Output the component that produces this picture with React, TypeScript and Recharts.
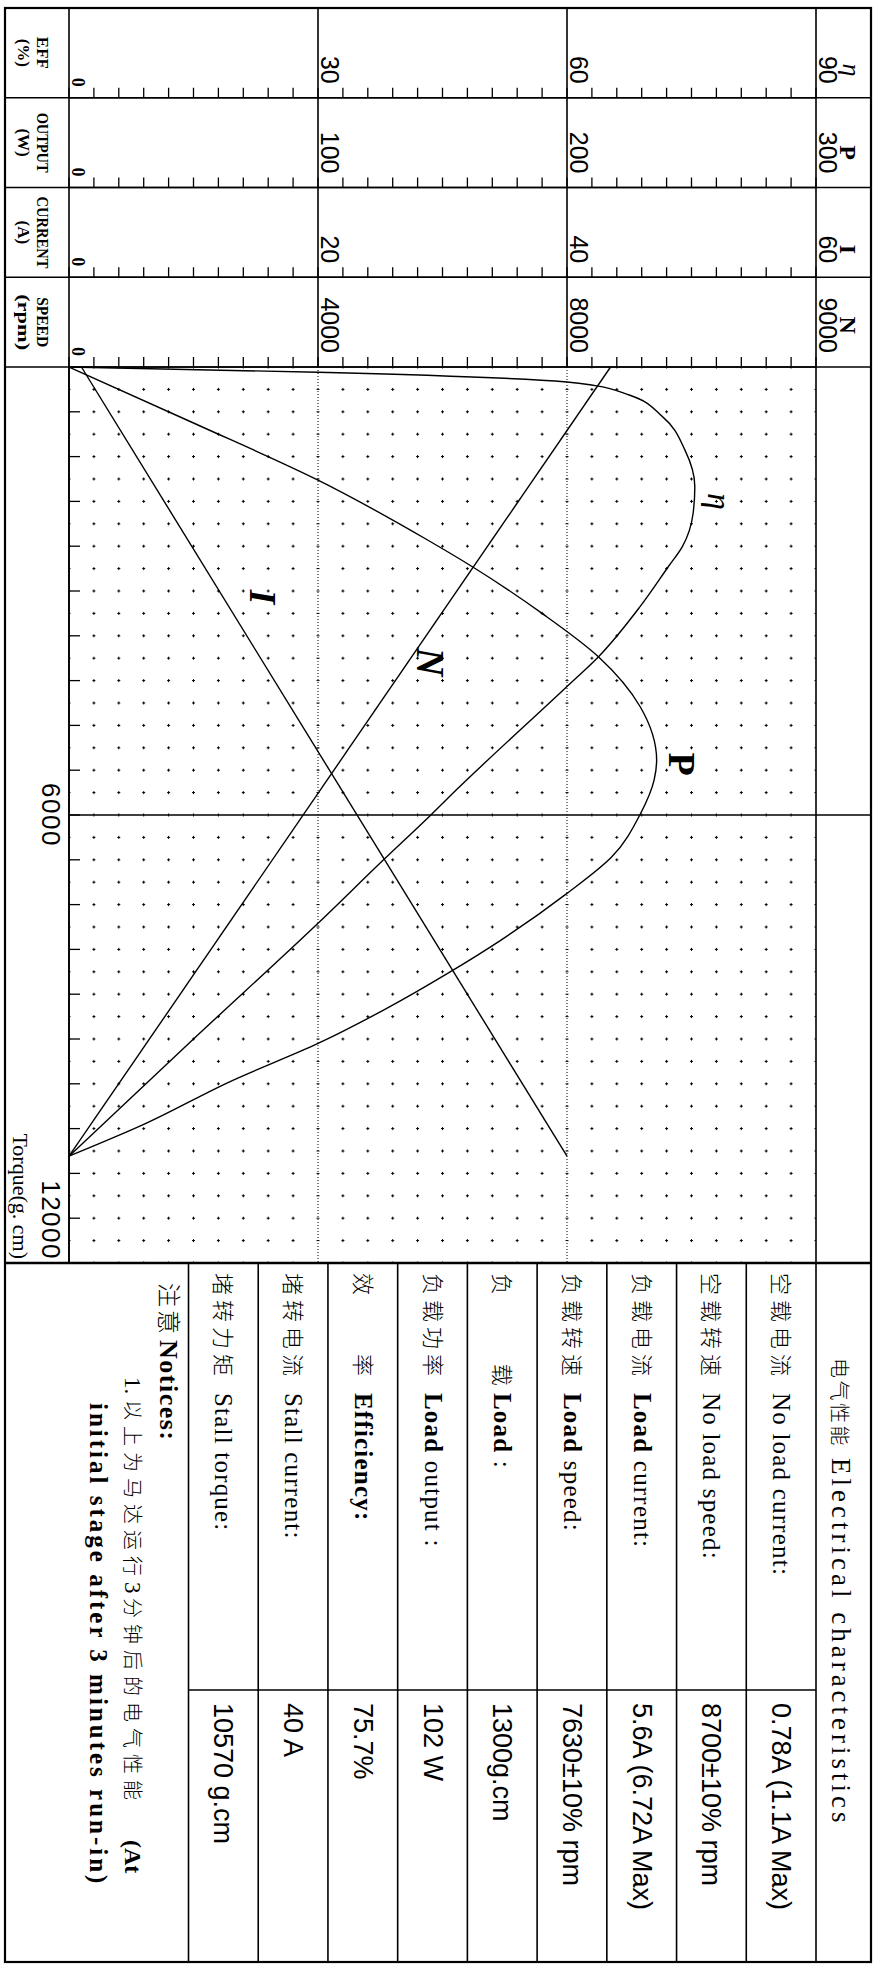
import React from "react";
import { LineChart, Line, XAxis, YAxis, ReferenceLine, ReferenceDot } from "recharts";

// torque (g.cm) and value pairs
const EFF_TORQUE = [0, 70, 200, 250, 375, 665, 1110, 1600, 1955, 2405, 2675, 3210, 3880, 4280, 5650, 6000, 6600, 7450, 9000, 10570];
const EFF_VALUE = [0, 30, 60, 63.4, 67.5, 71.5, 74.2, 75.4, 75.2, 73.9, 72.2, 68.8, 63.8, 60, 46.8, 43.6, 37.9, 30, 15, 0];

const OUT_TORQUE = [0, 750, 1515, 2317, 2675, 3300, 3880, 4550, 5265, 5530, 5990, 6560, 7050, 7675, 8095, 8610, 9060, 9550, 10175, 10570];
const OUT_VALUE = [0, 50, 100, 144, 162, 190, 212.6, 229.4, 236, 235, 229.4, 218, 200, 173.5, 153.4, 126.5, 100, 66, 28, 0];

const CUR_TORQUE = [0, 10570];
const CUR_VALUE = [1.0, 40];

const SPD_TORQUE = [0, 10570];
const SPD_VALUE = [8700, 0];

const TORQUE_MAX = 12000;
const TORQUE_STEP = 600;
const TORQUE_LABEL_AT = [6000, 12000];
const TORQUE_LABEL_TEXT = ["6000", "12000"];

// value axes; recharts stacks them by id, "a" sits next to the plot
const AXES = [
  { id: "a_spd", max: 12000, labels: ["0", "4000", "8000", "9000"], title: ["SPEED", "(rpm)"], titleLen: [50, 56], symbol: "N" },
  { id: "b_cur", max: 60, labels: ["0", "20", "40", "60"], title: ["CURRENT", "(A)"], titleLen: [72, 0], symbol: "I" },
  { id: "c_out", max: 300, labels: ["0", "100", "200", "300"], title: ["OUTPUT", "(W)"], titleLen: [60, 0], symbol: "P" },
  { id: "d_eff", max: 90, labels: ["0", "30", "60", "90"], title: ["EFF", "(%)"], titleLen: [0, 0], symbol: "η" },
];

const CURVE_TAGS = [
  { axis: "d_eff", t: 1800, v: 78.4, text: "η" },
  { axis: "c_out", t: 5317, v: 246.2, text: "P" },
  { axis: "a_spd", t: 3950, v: 5800, text: "N" },
  { axis: "b_cur", t: 3080, v: 15.6, text: "I" },
];

const SPEC_CN = ["空载电流", "空载转速", "负载电流", "负载转速", "负\u3000\u3000 载", "负载功率", "效\u3000\u3000率", "堵转电流", "堵转力矩"];
const SPEC_EN = ["No load current:", "No load speed:", "Load current:", "Load speed:", "Load :", "Load output :", "Efficiency:", "Stall current:", "Stall torque:"];
const SPEC_VAL = ["0.78A (1.1A Max)", "8700±10% rpm", "5.6A (6.72A Max)", "7630±10% rpm", "1300g.cm", "102 W", "75.7%", "40 A", "10570 g.cm"];
const SPEC_BOLD = [false, false, true, true, true, true, true, false, false];

const SERIF = '"Liberation Serif", "Times New Roman", serif';
const SANS = '"Liberation Sans", Arial, sans-serif';
const CJK = '"Noto Sans CJK SC", sans-serif';

// unrotated canvas (turned 90deg clockwise onto the page)
const W = 1966;
const H = 873;
const CHART_LEFT = 8;
const CHART_TOP = 2;
const STRIP_W = 89.75;
const PLOT_W = 896;
const PLOT_H = 747;
const TOP_M = 55;
const XAXIS_H = 63;
const TICK_LEN = 10;

const TABLE_U0 = 1263;
const TABLE_U1 = 1962;
const COL_U = 1690;
const ROW_V0 = 57;
const ROW_V1 = 684.5;
const ROW_H = (ROW_V1 - ROW_V0) / 9;

const torqueTicks: number[] = [];
for (let t = 0; t <= TORQUE_MAX; t += TORQUE_STEP) torqueTicks.push(t);
const dotTorques: number[] = [];
for (let t = 300; t < TORQUE_MAX; t += 300) if (t !== 6000) dotTorques.push(t);
const dotEffs: number[] = [];
for (let e = 3; e < 90; e += 3) if (e % 30 !== 0) dotEffs.push(e);

const pairs = (ts: number[], vs: number[]) => ts.map((t, i) => ({ t, v: vs[i] }));

const makeYTick = (cfg: (typeof AXES)[number]) => (p: any) => {
  const { x, y, payload } = p;
  const edge = x + TICK_LEN;
  const q = (payload.value * 3) / cfg.max;
  const k = Math.round(q);
  if (Math.abs(q - k) > 1e-6) return <g />;
  const txt = cfg.labels[k];
  if (k === 0) {
    return (
      <text x={edge - 11} y={y - 3} textAnchor="end" fontFamily={SERIF} fontWeight={700} fontSize={18} fill="#000">
        {txt}
      </text>
    );
  }
  const numW = txt.length * 13.9;
  const isEta = cfg.symbol === "η";
  return (
    <g>
      <text x={edge - 14} y={y - 3} textAnchor="end" fontFamily={SANS} fontSize={25} fill="#000">
        {txt}
      </text>
      {k === 3 && (
        <text
          x={edge - 14 - numW / 2}
          y={isEta ? y - 27 : y - 24}
          textAnchor="middle"
          fontFamily={SERIF}
          fontSize={isEta ? 26 : 24}
          fontStyle={isEta ? "italic" : "normal"}
          fontWeight={isEta ? 400 : 700}
          fill="#000"
        >
          {cfg.symbol}
        </text>
      )}
    </g>
  );
};

const makeYTitle = (cfg: (typeof AXES)[number]) => (p: any) => {
  const vb = p.viewBox || {};
  const cx = vb.x + vb.width / 2;
  const base = vb.y + vb.height;
  return (
    <g>
      {cfg.title.map((s, i) => (
        <text
          key={i}
          x={cx}
          y={base + (i === 0 ? 32 : 51)}
          textAnchor="middle"
          fontFamily={SERIF}
          fontWeight={700}
          fontSize={17}
          fill="#000"
          {...(cfg.titleLen[i] ? { textLength: cfg.titleLen[i], lengthAdjust: "spacingAndGlyphs" } : {})}
        >
          {s}
        </text>
      ))}
    </g>
  );
};

const XTick = (p: any) => {
  const { x, y, payload } = p;
  const t = payload.value;
  const idx = TORQUE_LABEL_AT.indexOf(t);
  const last = idx === TORQUE_LABEL_AT.length - 1;
  return (
    <g>
      {t > 0 && t < TORQUE_MAX && <line x1={x} x2={x} y1={y} y2={y - 11} stroke="#000" strokeWidth={1.3} />}
      {idx >= 0 && (
        <text
          x={last ? x - 3 : x}
          y={y + 27}
          textAnchor={last ? "end" : "middle"}
          fontFamily={SANS}
          fontSize={26}
          letterSpacing={1.5}
          fill="#000"
        >
          {TORQUE_LABEL_TEXT[idx]}
        </text>
      )}
    </g>
  );
};

const XTitle = (p: any) => {
  const vb = p.viewBox || {};
  return (
    <text x={vb.x + vb.width - 4} y={vb.y + 56} textAnchor="end" fontFamily={SERIF} fontSize={22} fill="#000">
      Torque(g. cm)
    </text>
  );
};

const TAG_STYLE: Record<string, any> = {
  η: { fontSize: 34, fontStyle: "italic", fontWeight: 400 },
  P: { fontSize: 38, fontStyle: "normal", fontWeight: 700 },
  N: { fontSize: 40, fontStyle: "italic", fontWeight: 700 },
  I: { fontSize: 38, fontStyle: "italic", fontWeight: 700 },
};

const tagShape = (tag: (typeof CURVE_TAGS)[number]) => (sp: any) => (
  <text x={sp.cx} y={sp.cy} textAnchor="middle" dominantBaseline="central" fontFamily={SERIF} fill="#000" {...TAG_STYLE[tag.text]}>
    {tag.text}
  </text>
);

function Frame() {
  const L = (x1: number, y1: number, x2: number, y2: number, w: number, k: string) => (
    <line key={k} x1={x1} y1={y1} x2={x2} y2={y2} stroke="#000" strokeWidth={w} />
  );
  const plotLeft = CHART_LEFT + STRIP_W * 4;
  const plotTop = CHART_TOP + TOP_M;
  const plotBottom = plotTop + PLOT_H;
  const rows: number[] = [];
  for (let i = 1; i < 9; i++) rows.push(ROW_V0 + ROW_H * i);

  return (
    <svg width={W} height={H} style={{ position: "absolute", left: 0, top: 0 }}>
      <rect x={8} y={2} width={TABLE_U1 - 8} height={866} fill="none" stroke="#000" strokeWidth={2.2} />
      {[1, 2, 3, 4].map((i) => L(CHART_LEFT + STRIP_W * i, 2, CHART_LEFT + STRIP_W * i, 868, 1.6, "s" + i))}
      {[1, 2].map((k) => L(8, plotBottom - (PLOT_H * k) / 3, plotLeft, plotBottom - (PLOT_H * k) / 3, 1.6, "m" + k))}
      {L(8, plotBottom, TABLE_U0, plotBottom, 1.6, "axis0")}
      {L(8, plotTop, TABLE_U1, plotTop, 1.6, "top")}
      {L(plotLeft + PLOT_W / 2, 2, plotLeft + PLOT_W / 2, plotTop, 1.6, "t6000")}
      {L(TABLE_U0, 2, TABLE_U0, 868, 2.4, "tabletop")}
      {rows.map((v, i) => L(TABLE_U0, v, TABLE_U1, v, 1.6, "r" + i))}
      {L(TABLE_U0, ROW_V1, TABLE_U1, ROW_V1, 1.6, "rlast")}
      {L(COL_U, ROW_V0, COL_U, ROW_V1, 1.6, "col")}

      <text x={1358} y={41} fontFamily={CJK} fontSize={20} fontWeight={300} letterSpacing={2.5} fill="#000">电气性能</text>
      <text x={1458} y={41} fontFamily={SERIF} fontSize={27} letterSpacing={4} fill="#000">Electrical characteristics</text>

      {SPEC_CN.map((cn, i) => {
        const mid = ROW_V0 + ROW_H * (i + 0.5);
        const en = SPEC_EN[i];
        const sp = en.indexOf(" ");
        const first = sp > 0 ? en.slice(0, sp) : en;
        const rest = sp > 0 ? en.slice(sp) : "";
        return (
          <g key={i}>
            <text x={1273} y={mid + 8} fontFamily={CJK} fontSize={22} fontWeight={300} letterSpacing={5} fill="#000">{cn}</text>
            <text x={1393} y={mid + 8} fontFamily={SERIF} fontSize={25} letterSpacing={1.2} fill="#000" style={{ whiteSpace: "pre" }}>
              <tspan fontWeight={SPEC_BOLD[i] ? 700 : 400}>{first}</tspan>
              <tspan>{rest}</tspan>
            </text>
            <text x={COL_U + 13} y={mid + 9} fontFamily={SANS} fontSize={27} fill="#000" style={{ whiteSpace: "pre" }}>{SPEC_VAL[i]}</text>
          </g>
        );
      })}

      <text x={1283} y={713} fontFamily={CJK} fontSize={24} fontWeight={300} letterSpacing={3} fill="#000">注意</text>
      <text x={1340} y={713} fontFamily={SERIF} fontSize={26} fontWeight={700} letterSpacing={1.5} fill="#000">Notices:</text>
      <text x={1377} y={748} fontFamily={SERIF} fontSize={23} fill="#000">1.</text>
      <text x={1400} y={748} fontFamily={CJK} fontSize={20} fontWeight={300} letterSpacing={6} fill="#000">以上为马达运行</text>
      <text x={1582} y={748} fontFamily={SERIF} fontSize={23} fill="#000">3</text>
      <text x={1598} y={748} fontFamily={CJK} fontSize={20} fontWeight={300} letterSpacing={6} fill="#000">分钟后的电气性能</text>
      <text x={1840} y={748} fontFamily={SERIF} fontSize={24} fontWeight={700} fill="#000">(At</text>
      <text x={1403} y={783} fontFamily={SERIF} fontSize={25} fontWeight={700} letterSpacing={3} fill="#000" style={{ whiteSpace: "pre" }}>
        initial stage after 3 minutes run-in)
      </text>
    </svg>
  );
}

export default function App() {
  const curve = { type: "monotone" as const, dataKey: "v", stroke: "#000", strokeWidth: 1.4, dot: false, isAnimationActive: false };
  return (
    <div
      style={{
        position: "absolute",
        left: 0,
        top: 0,
        width: W,
        height: H,
        background: "#fff",
        transform: `translate(${H}px, 0) rotate(90deg)`,
        transformOrigin: "0 0",
      }}
    >
      <div style={{ position: "absolute", left: CHART_LEFT, top: CHART_TOP }}>
        <LineChart width={STRIP_W * 4 + PLOT_W} height={TOP_M + PLOT_H + XAXIS_H} margin={{ top: TOP_M, right: 0, bottom: 0, left: 0 }}>
          <XAxis
            dataKey="t"
            type="number"
            domain={[0, TORQUE_MAX]}
            ticks={torqueTicks}
            interval={0}
            height={XAXIS_H}
            tickSize={0}
            tickMargin={0}
            tickLine={false}
            axisLine={{ stroke: "#000", strokeWidth: 1.6 }}
            tick={XTick}
            label={XTitle}
          />
          {AXES.map((cfg) => {
            const ticks: number[] = [];
            for (let k = 0; k <= 30; k++) ticks.push((cfg.max * k) / 30);
            return (
              <YAxis
                key={cfg.id}
                yAxisId={cfg.id}
                orientation="left"
                type="number"
                domain={[0, cfg.max]}
                ticks={ticks}
                interval={0}
                width={STRIP_W}
                tickSize={TICK_LEN}
                tickMargin={0}
                tickLine={{ stroke: "#000", strokeWidth: 1.3 }}
                axisLine={{ stroke: "#000", strokeWidth: 1.6 }}
                tick={makeYTick(cfg)}
                label={makeYTitle(cfg)}
              />
            );
          })}

          {dotTorques.map((t) => (
            <ReferenceLine
              key={"dt" + t}
              x={t}
              yAxisId="d_eff"
              stroke="#000"
              strokeWidth={1}
              strokeDasharray={`3 ${PLOT_H / 30 - 3}`}
              strokeDashoffset={1.5}
            />
          ))}
          {dotEffs.map((e) => (
            <ReferenceLine
              key={"de" + e}
              y={e}
              yAxisId="d_eff"
              stroke="#000"
              strokeWidth={1}
              strokeDasharray={`3 ${PLOT_W / 40 - 3}`}
              strokeDashoffset={1.5}
            />
          ))}
          {[30, 60].map((e) => (
            <ReferenceLine key={"dl" + e} y={e} yAxisId="d_eff" stroke="#000" strokeWidth={1} strokeDasharray="1 2" />
          ))}
          <ReferenceLine x={6000} yAxisId="d_eff" stroke="#000" strokeWidth={1.6} />

          <Line {...curve} yAxisId="d_eff" data={pairs(EFF_TORQUE, EFF_VALUE)} />
          <Line {...curve} yAxisId="c_out" data={pairs(OUT_TORQUE, OUT_VALUE)} />
          <Line {...curve} yAxisId="b_cur" data={pairs(CUR_TORQUE, CUR_VALUE)} type="linear" />
          <Line {...curve} yAxisId="a_spd" data={pairs(SPD_TORQUE, SPD_VALUE)} type="linear" />

          {CURVE_TAGS.map((tag) => (
            <ReferenceDot key={tag.text} x={tag.t} y={tag.v} yAxisId={tag.axis} r={1} shape={tagShape(tag)} />
          ))}
        </LineChart>
      </div>
      <Frame />
    </div>
  );
}
